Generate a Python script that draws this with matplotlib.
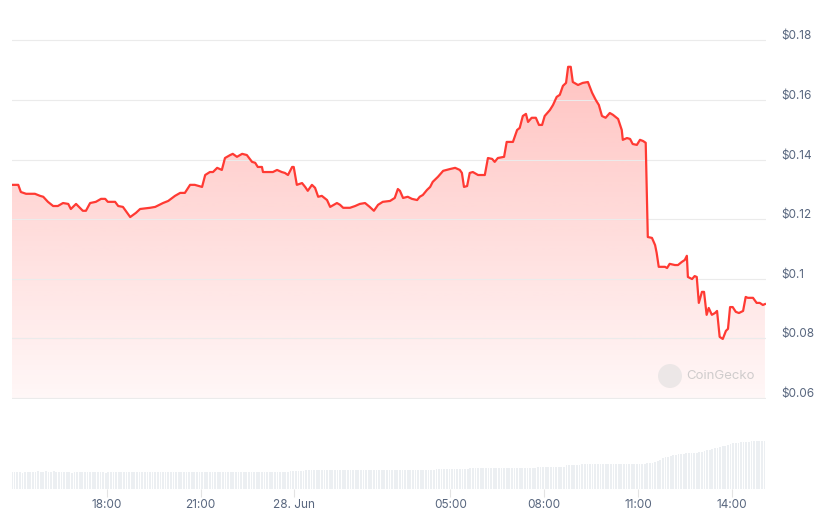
import numpy as np
import matplotlib
matplotlib.use('Agg')
import matplotlib.pyplot as plt
import matplotlib.dates as mdates
import matplotlib.transforms as mtrans
from matplotlib.patches import Ellipse

plt.rcParams['font.family'] = ['Inter', 'DejaVu Sans']

start = np.datetime64('2024-06-27T14:58')

# minutes after start, price in USD
price_min = [0, 12, 17, 27, 44, 54, 60, 69, 79, 88, 98, 108, 113, 123, 136, 142, 150, 161, 171, 179,
             184, 198, 204, 213, 227, 238, 246, 265, 275, 290, 300, 313, 323, 332, 342, 351, 365, 371, 380, 386,
             394, 403, 409, 419, 424, 432, 442, 451, 461, 467, 472, 480, 482, 501, 509, 518, 524, 530, 538, 541,
             547, 557, 563, 568, 576, 582, 588, 595, 605, 611, 624, 630, 636, 649, 659, 668, 678, 687, 695, 703,
             712, 726, 735, 741, 745, 751, 760, 768, 778, 783, 789, 797, 803, 808, 818, 828, 841, 851, 860, 864,
             868, 874, 879, 885, 895, 908, 914, 922, 927, 933, 945, 950, 962, 970, 975, 981, 987, 991, 998, 1006,
             1012, 1018, 1023, 1033, 1039, 1046, 1052, 1058, 1064, 1068, 1073, 1077, 1087, 1096, 1106, 1114, 1121, 1127, 1133, 1140,
             1148, 1154, 1164, 1171, 1173, 1181, 1187, 1192, 1200, 1206, 1212, 1217, 1221, 1229, 1235, 1238, 1242, 1254, 1258, 1263,
             1273, 1279, 1286, 1292, 1296, 1298, 1306, 1311, 1315, 1319, 1325, 1329, 1334, 1338, 1344, 1350, 1354, 1359, 1365, 1371,
             1375, 1379, 1384, 1390, 1396, 1404, 1409, 1413, 1423, 1430, 1436, 1442, 1446]
price = [0.1315, 0.1315, 0.1291, 0.1285, 0.1285, 0.1278, 0.1275, 0.1258, 0.1244, 0.1244, 0.1254, 0.1251, 0.1234, 0.1251, 0.1228, 0.1228, 0.1254, 0.1258, 0.1268, 0.1268,
         0.1258, 0.1258, 0.1244, 0.1241, 0.1207, 0.1221, 0.1234, 0.1238, 0.1241, 0.1254, 0.1261, 0.1278, 0.1288, 0.1288, 0.1315, 0.1315, 0.1308, 0.1348, 0.1358, 0.1358,
         0.1372, 0.1365, 0.1405, 0.1415, 0.1419, 0.1409, 0.1419, 0.1415, 0.1392, 0.1389, 0.1375, 0.1375, 0.1358, 0.1358, 0.1365, 0.1358, 0.1355, 0.1348, 0.1375, 0.1375,
         0.1315, 0.1321, 0.1308, 0.1295, 0.1315, 0.1305, 0.1275, 0.1278, 0.1264, 0.1241, 0.1254, 0.1248, 0.1238, 0.1238, 0.1244, 0.1251, 0.1254, 0.1241, 0.1228, 0.1248,
         0.1258, 0.1261, 0.1271, 0.1301, 0.1295, 0.1271, 0.1275, 0.1268, 0.1264, 0.1275, 0.1281, 0.1298, 0.1308, 0.1325, 0.1342, 0.1362, 0.1368, 0.1372, 0.1365, 0.1355,
         0.1308, 0.1311, 0.1355, 0.1358, 0.1348, 0.1348, 0.1405, 0.1402, 0.1392, 0.1405, 0.1409, 0.1459, 0.1459, 0.1499, 0.1506, 0.1546, 0.1553, 0.1526, 0.1540, 0.1540,
         0.1516, 0.1516, 0.1546, 0.1566, 0.1583, 0.1610, 0.1617, 0.1647, 0.1657, 0.1711, 0.1711, 0.1660, 0.1650, 0.1657, 0.1660, 0.1624, 0.1600, 0.1583, 0.1546, 0.1540,
         0.1556, 0.1550, 0.1536, 0.1499, 0.1466, 0.1472, 0.1469, 0.1452, 0.1449, 0.1466, 0.1462, 0.1456, 0.1140, 0.1137, 0.1113, 0.1087, 0.1040, 0.1040, 0.1036, 0.1050,
         0.1046, 0.1046, 0.1056, 0.1063, 0.1077, 0.1006, 0.0999, 0.1009, 0.1006, 0.0919, 0.0956, 0.0956, 0.0879, 0.0902, 0.0879, 0.0885, 0.0892, 0.0805, 0.0798, 0.0825,
         0.0832, 0.0905, 0.0905, 0.0889, 0.0885, 0.0892, 0.0939, 0.0936, 0.0936, 0.0919, 0.0919, 0.0912, 0.0915]

# 24h volume, one bar every 5 minutes (relative units)
vol = [17, 17, 17, 17, 16.5, 17, 17, 17,
       17.5, 17.5, 18, 17.5, 17.5, 18, 17.5, 17.5, 18, 17.5, 17, 17, 17,
       17, 17, 16.5, 17, 17, 17, 17.5, 17, 17, 17,
       17, 17, 17, 17, 17, 16.5, 17, 17, 17, 17,
       17, 17, 17, 17, 17, 17, 17, 17, 17, 17,
       17, 17, 17, 17, 17, 17, 17, 17, 17, 17,
       17, 17, 17, 17, 17.5, 17, 17, 17, 17, 17,
       17, 17, 17, 17, 17, 17, 17, 17, 17, 17,
       17, 17, 17, 17, 17, 17, 17, 17, 17, 17,
       17, 17, 17, 17, 17, 17, 17, 17, 17, 17,
       17, 17, 17, 17, 17, 17.5,
       18, 18, 18.5, 18.5, 18.5, 18.5, 19, 19,
       19.5, 19.5, 19.5, 19.5, 19.5, 19.5, 19.5, 19.5, 19.5, 19.5, 19.5, 19.5, 19.5, 19.5, 19.5, 19.5, 19.5, 19.5, 19.5, 19.5, 19.5,
       19, 19, 19, 19, 19, 19, 19, 19, 19, 19, 19, 19, 19, 19, 19, 19, 19, 19, 19, 19, 19, 19, 19, 19, 19, 19, 19,
       20, 20, 20, 20, 20, 20, 20, 20, 20, 20, 20, 20, 20,
       21, 21, 21, 21, 21, 21, 21, 21, 21, 21, 21, 21, 21, 21, 21, 21, 21, 21, 21, 21, 21, 21, 21, 21, 21, 21,
       22, 22, 22, 22, 22, 22, 22, 22, 22, 22, 22,
       24, 24, 24, 24, 24, 24,
       25, 25, 25, 25, 25, 25, 25, 25, 25, 25, 25, 25, 25, 25, 25, 25, 25, 25, 25, 25, 25, 25, 25, 25, 25,
       26, 26, 26.5, 27, 28, 29, 31, 32, 32, 33, 34, 34, 35, 35, 35, 36, 36, 36, 36, 36.5, 37, 37, 38, 39, 39,
       40, 41, 41, 42, 43, 43, 44, 45, 46, 46, 46.5, 47, 47, 47, 47.5, 48, 48.5, 48, 48, 48.5, 48]

tick_times = ['2024-06-27T18:00', '2024-06-27T21:00', '2024-06-28T00:00', '2024-06-28T05:00',
              '2024-06-28T08:00', '2024-06-28T11:00', '2024-06-28T14:00']
tick_labels = ['18:00', '21:00', '28. Jun', '05:00', '08:00', '11:00', '14:00']
y_ticks = [0.06, 0.08, 0.1, 0.12, 0.14, 0.16, 0.18]
y_labels = ['$0.06', '$0.08', '$0.1', '$0.12', '$0.14', '$0.16', '$0.18']

red = '#ff3a33'
grey_txt = '#58667e'

t = mdates.date2num(start + np.array(price_min).astype('timedelta64[m]'))
tv = mdates.date2num(start + (np.arange(len(vol)) * 5).astype('timedelta64[m]'))
x0 = mdates.date2num(start)
x1 = mdates.date2num(start + np.timedelta64(1448, 'm'))
ymin, ymax = 0.05966, 0.1868

fig = plt.figure(figsize=(8.21, 5.21), dpi=100)
W, H = 821, 521
ax = fig.add_axes([12 / W, 1 - 399 / H, 754 / W, 379 / H])
axv = fig.add_axes([12 / W, 1 - 489 / H, 754 / W, 49 / H])

# gradient area
grad = np.zeros((256, 1, 4))
grad[:, :, 0] = 1.0
grad[:, :, 1] = 58 / 255
grad[:, :, 2] = 51 / 255
grad[:, 0, 3] = np.linspace(0.34, 0.04, 256)
im = ax.imshow(grad, aspect='auto', extent=[x0, x1, ymin, ymax], origin='upper', zorder=1)
poly = ax.fill_between(t, price, ymin, color='none', lw=0)
im.set_clip_path(poly.get_paths()[0], transform=ax.transData)
ax.plot(t, price, color=red, lw=1.6, zorder=3, solid_joinstyle='round')

ax.set_xlim(x0, x1)
ax.set_ylim(ymin, ymax)
ax.set_yticks(y_ticks)
ax.grid(axis='y', color='#ebebeb', lw=0.8, zorder=0)
ax.tick_params(left=False, bottom=False, labelleft=False, labelbottom=False)
for s in ax.spines.values():
    s.set_visible(False)
ax.set_facecolor('none')

trans = mtrans.blended_transform_factory(ax.transAxes, ax.transData)
trans = trans + mtrans.ScaledTranslation(15 / 100, 4 / 100, fig.dpi_scale_trans)
for v, lab in zip(y_ticks, y_labels):
    ax.text(1.0, v, lab, transform=trans, ha='left', va='center', fontsize=8.5, color=grey_txt)

# volume bars
axv.bar(tv, vol, width=3.4 / 1440, color='#eceff2', lw=0)
axv.set_xlim(x0, x1)
axv.set_ylim(0, 49)
for s in axv.spines.values():
    s.set_visible(False)
axv.set_yticks([])
axv.set_xticks(mdates.date2num(np.array(tick_times, dtype='datetime64[m]')))
axv.set_xticklabels(tick_labels)
axv.tick_params(axis='x', length=6, width=0.8, color='#e3e3e3', pad=1.5, labelsize=8.5, labelcolor=grey_txt)

# watermark
fig.add_artist(Ellipse((670 / W, 1 - 376 / H), 24 / W, 24 / H, transform=fig.transFigure,
                       color='#e8e4e4', alpha=0.8, lw=0))
fig.text(686 / W, 1 - 376 / H, 'CoinGecko', color='#cfcccc', fontsize=9.5, va='center', ha='left')

fig.savefig('out.png', dpi=100, facecolor='white')
